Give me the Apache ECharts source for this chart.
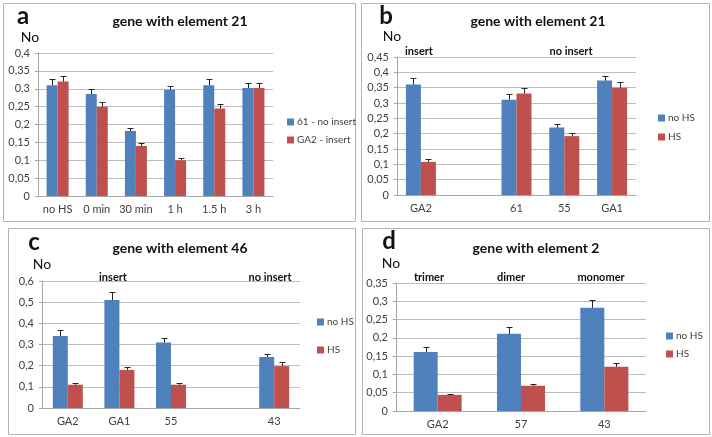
<!DOCTYPE html>
<html>
<head>
<meta charset="utf-8">
<script src="https://cdn.jsdelivr.net/npm/echarts@6/dist/echarts.min.js"></script>
<style>
html,body{margin:0;padding:0;background:#fff}
#main{width:712px;height:437px}
</style>
</head>
<body>
<div id="main"></div>
<script>
// panel a - gene with element 21, time course
var aCats = ['no HS', '0 min', '30 min', '1 h', '1.5 h', '3 h']
var aNoInsert = [0.31, 0.285, 0.182, 0.297, 0.31, 0.302]
var aNoInsertErr = [0.017, 0.014, 0.009, 0.012, 0.017, 0.014]
var aInsert = [0.32, 0.25, 0.14, 0.10, 0.245, 0.302]
var aInsertErr = [0.016, 0.012, 0.007, 0.006, 0.012, 0.014]

// panel b - gene with element 21
var bCats = ['GA2', '', '61', '55', 'GA1']
var bNoHS = [0.36, null, 0.311, 0.22, 0.373]
var bNoHSErr = [0.02, null, 0.017, 0.012, 0.016]
var bHS = [0.108, null, 0.331, 0.192, 0.35]
var bHSErr = [0.008, null, 0.018, 0.011, 0.02]

// panel c - gene with element 46
var cCats = ['GA2', 'GA1', '55', '', '43']
var cNoHS = [0.34, 0.51, 0.31, null, 0.241]
var cNoHSErr = [0.027, 0.039, 0.023, null, 0.016]
var cHS = [0.11, 0.18, 0.11, null, 0.198]
var cHSErr = [0.01, 0.016, 0.01, null, 0.019]

// panel d - gene with element 2
var dCats = ['GA2', '57', '43']
var dNoHS = [0.161, 0.211, 0.282]
var dNoHSErr = [0.013, 0.018, 0.021]
var dHS = [0.044, 0.069, 0.121]
var dHSErr = [0.003, 0.006, 0.01]

var blue = '#4f81bd'
var red = '#c0504d'
var txt = '#404040'
var fnt = 'Lato, "Open Sans", sans-serif'

function fmt(v){
    return String(+v.toFixed(2)).replace('.', ',')
}

// punkty dla slupkow bledu
function errData(vals, errs){
    var out = []
    for(var i=0;i<vals.length;i++){
        if(vals[i] == null) continue
        out.push([i, vals[i], errs[i]])
    }
    return out
}

function errItem(off){
    return function(params, api){
        var base = api.coord([api.value(0), api.value(1)])
        var top = api.coord([api.value(0), api.value(1) + api.value(2)])
        var x = Math.round(base[0] + off) + 0.5
        var y = Math.round(top[1]) + 0.5
        return {
            type: 'group',
            children: [
                {type: 'line', shape: {x1: x, y1: base[1], x2: x, y2: y}, style: {stroke: '#222', lineWidth: 1}},
                {type: 'line', shape: {x1: x - 3, y1: y, x2: x + 3, y2: y}, style: {stroke: '#222', lineWidth: 1}}
            ]
        }
    }
}

var grids = [
    {left: 38, top: 53, width: 235, height: 143},
    {left: 397, top: 57, width: 239, height: 138},
    {left: 42, top: 281, width: 258, height: 127},
    {left: 396, top: 283, width: 250, height: 128}
]
var cats = [aCats, bCats, cCats, dCats]
var maxes = [0.4, 0.45, 0.6, 0.35]
var steps = [0.05, 0.05, 0.1, 0.05]
var bw = [11, 15, 15, 24]

var xAxes = [], yAxes = []
for(var i=0;i<4;i++){
    xAxes.push({
        type: 'category', gridIndex: i, data: cats[i],
        axisLine: {lineStyle: {color: '#a6a6a6'}},
        axisTick: {show: false},
        axisLabel: {color: txt, fontSize: 11, fontFamily: fnt, margin: 8, interval: 0}
    })
    yAxes.push({
        type: 'value', gridIndex: i, min: 0, max: maxes[i], interval: steps[i],
        axisLine: {show: true, lineStyle: {color: '#a6a6a6'}},
        axisTick: {show: true, length: 3, lineStyle: {color: '#a6a6a6'}},
        splitLine: {lineStyle: {color: '#bdbdbd'}},
        axisLabel: {color: txt, fontSize: 11, fontFamily: fnt, margin: 8, formatter: fmt}
    })
}

var pairs = [
    [aNoInsert, aNoInsertErr, aInsert, aInsertErr, '61 - no insert', 'GA2 - insert'],
    [bNoHS, bNoHSErr, bHS, bHSErr, 'no HS', 'HS'],
    [cNoHS, cNoHSErr, cHS, cHSErr, 'no HS', 'HS'],
    [dNoHS, dNoHSErr, dHS, dHSErr, 'no HS', 'HS']
]
var series = []
for(var i=0;i<4;i++){
    var p = pairs[i]
    series.push({type: 'bar', name: p[4], xAxisIndex: i, yAxisIndex: i, data: p[0], barWidth: bw[i], barGap: '0%', itemStyle: {color: blue}, animation: false})
    series.push({type: 'bar', name: p[5], xAxisIndex: i, yAxisIndex: i, data: p[2], barWidth: bw[i], barGap: '0%', itemStyle: {color: red}, animation: false})
    series.push({type: 'custom', name: 'err1', xAxisIndex: i, yAxisIndex: i, data: errData(p[0], p[1]), renderItem: errItem(-bw[i] / 2), z: 5, animation: false, silent: true})
    series.push({type: 'custom', name: 'err2', xAxisIndex: i, yAxisIndex: i, data: errData(p[2], p[3]), renderItem: errItem(bw[i] / 2), z: 5, animation: false, silent: true})
}

function leg(left, top, gap, names){
    return {
        orient: 'vertical', left: left, top: top, itemGap: gap,
        itemWidth: 7, itemHeight: 7, icon: 'rect', data: names,
        selectedMode: false,
        textStyle: {color: txt, fontSize: 10, fontFamily: fnt, lineHeight: 12, padding: [0, 0, 0, -2]}
    }
}

function box(x, y, w, h){
    return {type: 'rect', shape: {x: x + 0.5, y: y + 0.5, width: w, height: h}, style: {fill: null, stroke: '#b4b4b4', lineWidth: 1}, z: -1}
}
function label(t, x, y, size, bold){
    return {type: 'text', style: {text: t, x: x, y: y, fill: '#111', font: (bold ? 'bold ' : '') + size + 'px ' + fnt, textAlign: 'center', textVerticalAlign: 'middle'}}
}

var option = {
    backgroundColor: '#fff',
    animation: false,
    grid: grids,
    xAxis: xAxes,
    yAxis: yAxes,
    legend: [
        leg(282, 111, 6, ['61 - no insert', 'GA2 - insert']),
        leg(653, 107, 7, ['no HS', 'HS']),
        leg(312, 311, 16, ['no HS', 'HS']),
        leg(661, 325, 6, ['no HS', 'HS'])
    ],
    graphic: [
        box(3, 3, 352, 218),
        box(361, 3, 348, 218),
        box(8, 228, 347, 206),
        box(362, 228, 347, 206),
        label('a', 23, 16, 24, true),
        label('b', 386, 16, 24, true),
        label('c', 34, 242, 24, true),
        label('d', 389, 241, 24, true),
        label('gene with element 21', 180, 21, 14, true),
        label('gene with element 21', 538, 21, 14, true),
        label('gene with element 46', 180, 248, 14, true),
        label('gene with element 2', 536, 248, 14, true),
        label('No', 30, 37, 14, false),
        label('No', 392, 36, 14, false),
        label('No', 42, 264, 14, false),
        label('No', 391, 263, 14, false),
        label('insert', 419, 51, 11, true),
        label('no insert', 571, 51, 11, true),
        label('insert', 113, 277, 11, true),
        label('no insert', 270, 277, 11, true),
        label('trimer', 429, 277, 11, true),
        label('dimer', 511, 277, 11, true),
        label('monomer', 601, 277, 11, true)
    ],
    series: series
}

var myChart = echarts.init(document.getElementById('main'))
myChart.setOption(option)
</script>
</body>
</html>
